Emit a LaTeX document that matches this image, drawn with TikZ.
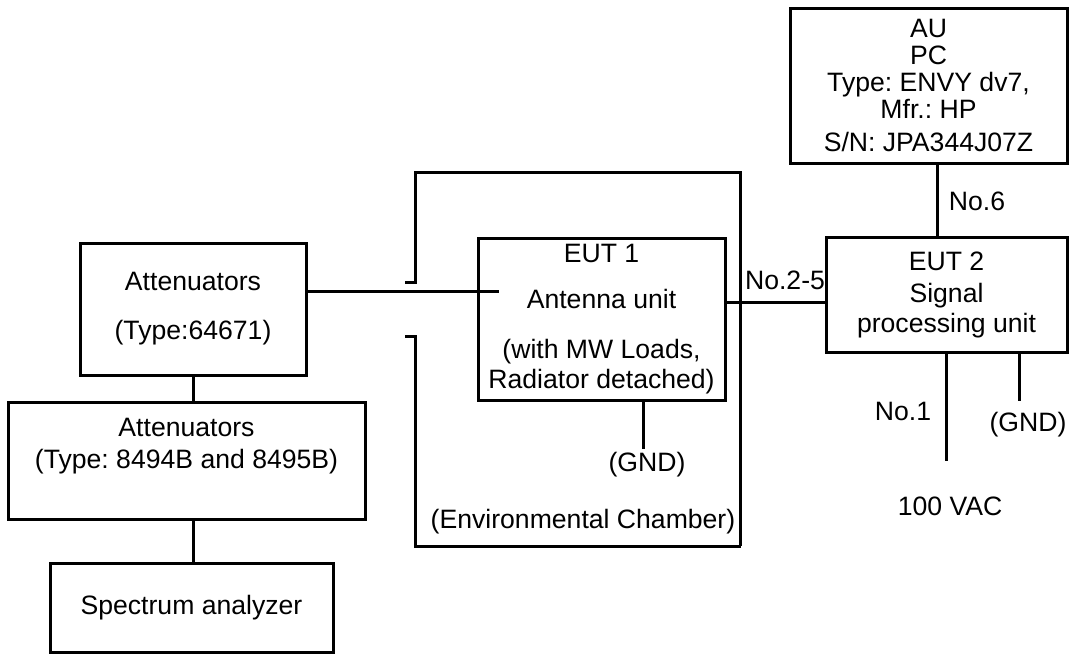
\documentclass[tikz,border=0pt]{standalone}
\usepackage{fontspec}
\setmainfont{Liberation Sans}
\usetikzlibrary{positioning}
\frenchspacing

\tikzset{
  unit/.style = {draw, line width=1.5pt, align=center, inner sep=0pt},
  txt/.style = {align=center, inner sep=1pt},
  wire/.style = {line width=1.5pt}
}

\begin{document}
\begin{tikzpicture}[x=0.5pt, y=-0.5pt, font=\fontsize{13.3}{13.5}\selectfont]
        \useasboundingbox (0,0) rectangle (1069,659);

        % measuring chain
        \node[unit, minimum width=113pt, minimum height=66pt] (att1) at (193,309) {Attenuators\\[11pt](Type:64671)};
        \node[unit, minimum width=178.5pt, minimum height=58.5pt] (att2) at (186.5,460.5) {};
        \node[txt] (att2txt) at (186.5,446) {Attenuators\\[2.5pt](Type: 8494B and 8495B)};
        \node[unit, minimum width=141.5pt, minimum height=44.5pt] (spec) at (191.5,608) {Spectrum analyzer};

        % units under test
        \node[unit, minimum width=123.5pt, minimum height=81pt] (eut1) at (601.5,319) {EUT 1\\[9.5pt]Antenna unit\\[11.5pt](with MW Loads,\\[1.5pt]Radiator detached)};
        \node[unit, minimum width=120.5pt, minimum height=57.5pt] (eut2) at (946.5,294.5) {EUT 2\\[2.5pt]Signal\\[1.5pt]processing unit};
        \node[unit, minimum width=138.5pt, minimum height=77.5pt] (au) at (928.5,85.5) {AU\\PC\\Type: ENVY dv7,\\Mfr.: HP\\[3pt]S/N: JPA344J07Z};

        % free ends
        \coordinate (rf) at (499,291);
        \coordinate (gnd1) at (643,449);
        \coordinate (ac) at (946,461);
        \coordinate (gnd2) at (1019,401);

        % environmental chamber
        \draw[wire] (405,282) -- (415,282) -- (415,172) -- (740,172) -- (740,546);
        \draw[wire] (405,336) -- (415,336) -- (415,546) -- (741,546);

        % connections
        \draw[wire] (att1.east |- rf) -- (rf);
        \draw[wire] (att1) -- (att1 |- att2.north);
        \draw[wire] (att2.south -| att1) -- (att1 |- spec.north);
        \draw[wire] (eut1.south -| gnd1) -- (gnd1);
        \draw[wire] (eut1.east |- 0,302) -- (eut2.west |- 0,302);
        \draw[wire] (au.south -| 937,0) -- (eut2.north -| 937,0);
        \draw[wire] (eut2.south -| ac) -- (ac);
        \draw[wire] (eut2.south -| gnd2) -- (gnd2);

        % labels
        \node[txt] (l6) at (977,201) {No.6};
        \node[txt] (l25) at (785,280) {No.2-5};
        \node[txt] (l1) at (903,411) {No.1};
        \node[txt] (lgnd2) at (1028,425) {(GND)};
        \node[txt] (lac) at (950,506) {100 VAC};
        \node[txt] (lgnd1) at (647,465) {(GND)};
        \node[txt] (lchamber) at (583,522) {(Environmental Chamber)};
\end{tikzpicture}
\end{document}
